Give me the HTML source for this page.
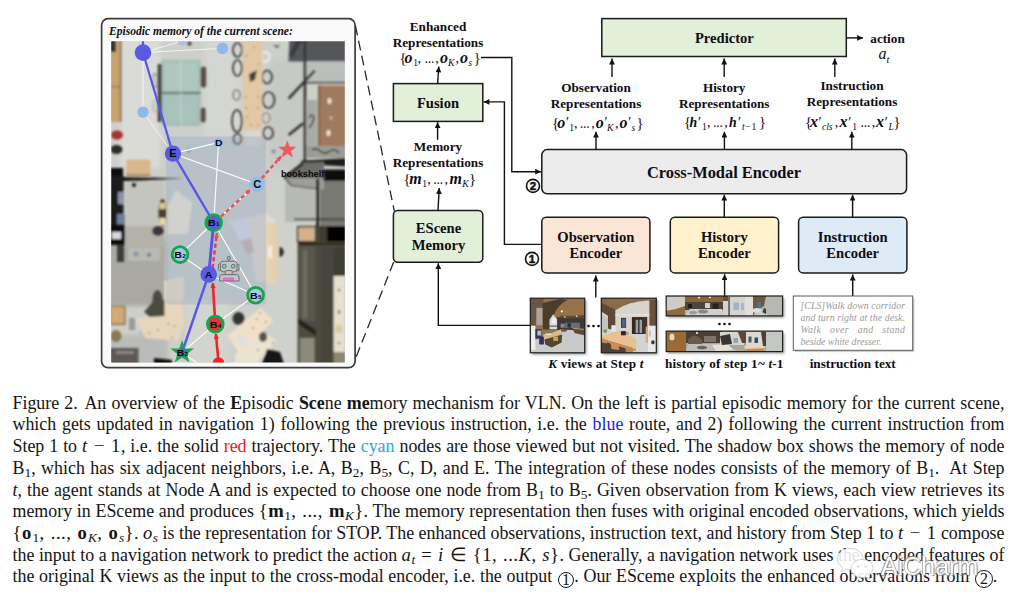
<!DOCTYPE html>
<html>
<head>
<meta charset="utf-8">
<title>Figure 2</title>
<style>
html,body{margin:0;padding:0;background:#fff;}
body{width:1013px;height:607px;position:relative;overflow:hidden;font-family:"Liberation Serif",serif;color:#111;}
#fig{position:absolute;left:0;top:0;width:1013px;height:390px;}
#fig text{font-family:"Liberation Serif",serif;}
.b{font-weight:bold;fill:#0d0d14;}
.cap{position:absolute;left:12.5px;width:992px;height:22px;line-height:22px;font-size:17.9px;white-space:nowrap;text-align:justify;text-align-last:justify;color:#141414;white-space:normal;overflow:visible;}
.cap.last{text-align-last:left;width:auto;white-space:nowrap;word-spacing:.22px;}
.cap i{font-style:italic;}
.cap sub{font-size:13.4px;vertical-align:-3.4px;line-height:0;}
.m{font-size:18.6px;letter-spacing:.5px;word-spacing:.6px;}
.m sub{letter-spacing:.3px;}
.ob b{letter-spacing:1.3px;}
.circ.c2{width:17.8px;height:17.8px;line-height:16px;vertical-align:-1.7px;}
.red{color:#f01414;} .blue{color:#1c1ce0;} .cyan{color:#1fa8ea;}
.circ{display:inline-block;box-sizing:border-box;width:16.4px;height:16.4px;border:1.1px solid #141414;border-radius:50%;font-size:16px;line-height:14.6px;text-align:center;vertical-align:-2.8px;text-align-last:center;margin-left:1px;word-spacing:0;}
#wm{position:absolute;left:881px;top:552px;line-height:28px;font-family:"Liberation Sans",sans-serif;font-size:25px;color:#fff;text-shadow:0 0 1px #666,1px 1px 1px #888,-1px -1px 1px #aaa;opacity:.9;}
</style>
</head>
<body>
<svg id="fig" width="1013" height="390" viewBox="0 0 1013 390">
<defs>
<marker id="ah" viewBox="0 0 10 10" refX="10" refY="5" markerWidth="8.4" markerHeight="5.8" markerUnits="userSpaceOnUse" orient="auto"><path d="M0,0 L10,5 L0,10 z" fill="#111"/></marker>
</defs>
<defs>
<clipPath id="imgclip"><rect x="111.2" y="41.2" width="233.6" height="321.4"/></clipPath>
<filter id="bl" x="-5%" y="-5%" width="110%" height="110%"><feGaussianBlur stdDeviation="0.9"/></filter>
<filter id="bl2" x="-5%" y="-5%" width="110%" height="110%"><feGaussianBlur stdDeviation="2.2"/></filter>
<marker id="rh" viewBox="0 0 10 10" refX="9" refY="5" markerWidth="6" markerHeight="5.4" markerUnits="userSpaceOnUse" orient="auto"><path d="M0,0 L10,5 L0,10 z" fill="#ee2424"/></marker>
<marker id="ph" viewBox="0 0 10 10" refX="9" refY="5" markerWidth="5.6" markerHeight="5" markerUnits="userSpaceOnUse" orient="auto"><path d="M0,0 L10,5 L0,10 z" fill="#ea5058"/></marker>
</defs>
<g id="scene">
<!-- panel -->
<rect x="101.6" y="18.7" width="253.5" height="349" rx="6.5" fill="#fafafa" stroke="#3c3c3c" stroke-width="1.7"/>
<text x="109" y="34.7" font-size="11.55" font-weight="bold" font-style="italic" fill="#0d0d14">Episodic memory of the current scene:</text>
<g clip-path="url(#imgclip)">
<rect x="111" y="41" width="234" height="322" fill="#cdcfca"/>
<!-- soft tonal zones -->
<g filter="url(#bl2)">
<rect x="120" y="38" width="40" height="130" fill="#dadbd7"/>
<rect x="205" y="38" width="36" height="100" fill="#d4d6d2"/>
<rect x="270" y="60" width="34" height="110" fill="#c6c9c6"/>
<rect x="108" y="240" width="58" height="66" fill="#a9a9a2"/>
<rect x="125" y="180" width="40" height="50" fill="#c4c5bf"/>
<rect x="270" y="180" width="30" height="180" fill="#cfd1cc"/>
<rect x="186" y="300" width="44" height="66" fill="#d2d4d0"/>
<rect x="108" y="335" width="60" height="30" fill="#b9bcb8"/>
</g>
<g filter="url(#bl)">
<!-- top-left tan strip -->
<rect x="110" y="40" width="11" height="82" fill="#c9a36e"/>
<rect x="110" y="40" width="6" height="12" fill="#3b3027"/>
<rect x="119.8" y="40" width="1.6" height="82" fill="#7c694e"/>
<rect x="110" y="86" width="10" height="1.2" fill="#8a7455"/>
<!-- shoes -->
<ellipse cx="117" cy="135" rx="6" ry="4.5" fill="#a3362c"/>
<ellipse cx="116.5" cy="149.5" rx="6" ry="4.5" fill="#2e2b2a"/>
<!-- green glass table -->
<rect x="157.6" y="64" width="5" height="58" fill="#4b4b44"/>
<rect x="161.8" y="59.9" width="38.8" height="66" fill="#a3bdb6"/>
<rect x="164" y="62" width="34" height="28.5" fill="#aec7c0"/>
<rect x="164" y="96" width="34" height="27" fill="#a9c2bb"/>
<rect x="161.8" y="92" width="38.8" height="1.7" fill="#5d6d66"/>
<rect x="180.6" y="60" width="0.9" height="66" fill="#c6dcd5"/>
<rect x="153" y="74" width="4.2" height="13" rx="2" fill="none" stroke="#8d8d89" stroke-width="1.3"/>
<rect x="200.6" y="66.5" width="5.6" height="21" rx="2.8" fill="#5d4d43"/>
<rect x="200.6" y="107.5" width="5" height="15" rx="2.5" fill="#5d4d43"/>
<rect x="153" y="100" width="4.2" height="12" rx="2" fill="none" stroke="#a5a5a0" stroke-width="1"/>
<circle cx="189.5" cy="43.5" r="2.2" fill="#55504a"/>
<!-- long tan table with chairs -->
<g fill="none" stroke="#35332f" stroke-width="1.7">
<ellipse cx="237.5" cy="50" rx="4.5" ry="7"/><ellipse cx="237.5" cy="68" rx="4.5" ry="8"/>
<ellipse cx="237" cy="121" rx="5" ry="11"/><ellipse cx="236.5" cy="95" rx="3.5" ry="5" stroke="#8a7a62" stroke-width="1.5"/>
<ellipse cx="267" cy="77" rx="5" ry="6.5"/><ellipse cx="268.5" cy="100" rx="6" ry="8"/>
<ellipse cx="268" cy="133" rx="5" ry="6"/><ellipse cx="266" cy="118" rx="4" ry="5" stroke="#9b8a70" stroke-width="1.5"/>
<ellipse cx="265.5" cy="57" rx="3.8" ry="5" stroke="#ececec" stroke-width="2.4"/>
<ellipse cx="237.5" cy="139" rx="4" ry="5"/>
</g>
<polygon points="242.3,40 262.6,40 261.7,145.6 243.8,145.6" fill="#e3c8a5"/>
<polygon points="249,74 257,70 255,80 250,82" fill="#4a4036"/>
<g fill="#a98a66"><circle cx="254" cy="47" r=".9"/><circle cx="246" cy="56" r=".9"/><circle cx="259" cy="64" r=".9"/><circle cx="245.5" cy="97" r=".9"/><circle cx="258" cy="97" r=".9"/><circle cx="246.5" cy="108" r=".9"/><circle cx="258" cy="108" r=".9"/><circle cx="247" cy="117" r=".9"/><circle cx="251" cy="125" r=".9"/><circle cx="258.5" cy="125" r=".9"/></g>
<!-- top right dark area -->
<polygon points="289.4,40 346,40 346,61.6 288.4,61.6" fill="#55565a"/>
<polygon points="296,40 303,40 292,58 289,55" fill="#3c3c3e"/>
<rect x="306" y="61.6" width="40" height="20.6" fill="#bbbfbb"/>
<rect x="303.6" y="40" width="2.7" height="126" fill="#383838"/>
<path d="M314.8,70.6 L288.6,98.6 M303.2,123.3 L288.6,135" stroke="#303030" stroke-width="2.6" fill="none"/>
<rect x="305" y="81.8" width="41" height="1.6" fill="#2f2f2f"/>
<path d="M274,45 l3,2 l2,-2" stroke="#55504a" stroke-width="1.4" fill="none"/>
<!-- brown panel -->
<rect x="318" y="85.4" width="28" height="69" fill="#a07a5c"/>
<rect x="318" y="85.4" width="2" height="69" fill="#7d6048"/>
<ellipse cx="329.5" cy="101" rx="2" ry="3" fill="#efe6da"/><ellipse cx="328.5" cy="133" rx="2" ry="3" fill="#efe6da"/><ellipse cx="331" cy="118" rx="1.5" ry="2" fill="#c9b7a4"/>
<rect x="306.5" y="100" width="11" height="46" fill="#a9aba6"/>
<path d="M309,118 q3,-6 5,0 q-2,7 -5,10" stroke="#3c3c3c" stroke-width="1.5" fill="none"/>
<!-- mid right dark bands -->
<rect x="306.5" y="146" width="40" height="12" fill="#9a9c98"/>
<path d="M312,150 q4,-3 8,1 q5,4 10,0 q5,-3 9,2" stroke="#2e2e2e" stroke-width="1.4" fill="none"/>
<rect x="320" y="179" width="26" height="47" fill="#787973"/>
<rect x="285" y="181" width="31" height="41" fill="#b7b9b5"/>
<polygon points="302,160.500 346,158 346,166.500 300,164" fill="#1e1e1e"/>
<polygon points="283.800,176.500 302,162.500 324,162 324,177" fill="#6b6d69"/>
<polygon points="283.800,176.500 302,162.500 304,164.500 287,177.500" fill="#2b2b2b"/>
<polygon points="284,176.600 291,185.500 324,189.500 324,177" fill="#9c9e9a"/>
<path d="M284,177 L291,185.500 L318,189" stroke="#3a3a38" stroke-width="1.200" fill="none"/>
<rect x="323.500" y="169.500" width="23" height="11.500" fill="#0c0c0c"/>
<rect x="283" y="176.200" width="42" height="1.600" fill="#4a4a46"/>
<rect x="316" y="179" width="3.200" height="185" fill="#1f1e1c"/>
<rect x="294" y="218.600" width="52" height="1.500" fill="#2c2c2a"/>
<circle cx="273.5" cy="151.5" r="2" fill="#8c8c88"/>
<!-- tan box + wedge, left -->
<rect x="126.4" y="159.6" width="24" height="16.6" fill="#d9b68b"/>
<rect x="126.4" y="174" width="24" height="2.2" fill="#a88a62"/>
<polygon points="110,176.800 140,177.200 184,178.400 140,180.600 110,181.200" fill="#151515"/>
<rect x="110" y="168" width="13" height="12" fill="#101010"/>
<rect x="110" y="176" width="13.5" height="58" fill="#1a1a1a"/>
<rect x="117" y="222" width="7" height="40" fill="#3c3c3a"/>
<rect x="118" y="192" width="6" height="12" fill="#8f93a6"/>
<rect x="117" y="214" width="8" height="10" fill="#6f7f95"/>
<circle cx="134" cy="185" r="2" fill="#1a1a1a"/>
<!-- desk near E/B1 left -->
<polygon points="175.8,190 192.3,202.5 188,234 167.6,234 167.6,207.4" fill="#f3e8d2"/>
<ellipse cx="162.5" cy="213" rx="4" ry="14" fill="#4b3f2f"/>
<rect x="159.5" y="203" width="6" height="6" fill="#e2c88c"/><rect x="159.5" y="218" width="6" height="7" fill="#e8d9a8"/>
<circle cx="188.5" cy="150.5" r="2.2" fill="#9a9b98"/>
<!-- left middle grey zone -->
<rect x="110" y="225" width="15" height="20" fill="#111"/>
<rect x="112" y="232" width="9" height="7" fill="#d8d8d8"/>
<rect x="125" y="226" width="40" height="20" fill="#b4b2a8"/>
<ellipse cx="158" cy="231" rx="6" ry="5" fill="#3a3540"/>
<rect x="128" y="247" width="32" height="14" fill="#b9bab4"/>
<circle cx="136" cy="254" r="2.5" fill="#8c92a8"/><circle cx="149" cy="255" r="2" fill="#77776f"/>
<!-- L desk (A/B2 left-bottom) -->
<polygon points="164.5,281 184,276 184,306 177.5,325 150,325 165,300" fill="#eedfc2"/>
<ellipse cx="157.5" cy="300" rx="5" ry="10" fill="#4a4a3f"/>
<rect x="110" y="307.3" width="15.6" height="18" fill="#cba877"/>
<!-- bottom-left L desk -->
<polygon points="165.5,300 184,300 184,324.7 177.8,340.7 145.7,338.3 134.6,318.5 165.5,316" fill="#e6d6bb"/>
<polygon points="154.4,300 164.5,300 164.5,316 150,317 144,312" fill="#4b4b41"/>
<rect x="110" y="306.2" width="14.8" height="18" fill="#d3a977" stroke="#6e5a40" stroke-width="1"/>
<ellipse cx="116" cy="336" rx="5.5" ry="6" fill="#897954"/>
<rect x="129" y="318" width="6" height="12" fill="#9a9a98"/>
<rect x="110" y="348" width="28.5" height="16" fill="#5c5956"/>
<rect x="116" y="351" width="18" height="3" fill="#8d8486"/>
<polygon points="154,358 172,360 172,364 154,364" fill="#111"/>
<g fill="#9b8a70"><circle cx="168.5" cy="324" r=".9"/><circle cx="174.5" cy="326" r=".9"/><circle cx="158" cy="330" r=".9"/><circle cx="149" cy="333" r=".9"/><circle cx="172" cy="338" r=".9"/><circle cx="140.5" cy="333" r=".9"/></g>
<!-- desk right of B1 / robot -->
<polygon points="228.6,221.8 265,213.4 275,219 275,283.5 256,281 251,251.2" fill="#e4dacd"/>
<polygon points="266.5,222 277.6,226 277.6,281 266.5,283" fill="#e4d0ad"/>
<polygon points="231,223 247,219.5 252,238 240,241" fill="#dcdae4"/>
<polygon points="240,241 251,238 254,252 248,254" fill="#c9b2ad"/>
<path d="M279.3,247 a4.5,5 0 0 1 0,10z" fill="#2a2a26"/>
<rect x="268" y="246" width="4" height="12" fill="#f3eee2"/>
<!-- small table top centre under long table -->
<polygon points="244,130 262,130 260,146 246,146" fill="#d9d7d0"/>
<!-- bottom tilted desks -->
<polygon points="260.8,307.4 273.1,321 239.8,354.3 227.5,335.8" fill="#f0e1c6"/>
<polygon points="262,330.8 276.8,340.7 255.8,364 234.9,364 234.9,354.3" fill="#ebe2d0"/>
<polygon points="240,334 249,341 243,347 235,340" fill="#dcdfe6"/>
<ellipse cx="238.5" cy="318.5" rx="6" ry="6.5" fill="#36352f"/>
<polygon points="267,349 280,352 284,364 262,364" fill="#151515"/>
<ellipse cx="263" cy="337" rx="4" ry="5" fill="#55544d"/>
<g fill="#8f7d63"><circle cx="260" cy="313" r=".9"/><circle cx="257" cy="319" r=".9"/><circle cx="253" cy="328" r=".9"/><circle cx="266" cy="322" r=".9"/><circle cx="273" cy="343" r=".9"/><circle cx="258" cy="350" r=".9"/></g>
<!-- right dark shelf lower -->
<rect x="297.6" y="226" width="48" height="138" fill="#4d4b3f"/>
<rect x="297.6" y="226.6" width="18" height="15" fill="#d5b08a" stroke="#2a2823" stroke-width="1.4"/>
<rect x="327" y="226" width="19" height="15.6" fill="#060606"/>
<rect x="319" y="226" width="8" height="16" fill="#3c3a33"/>
<rect x="299" y="243" width="47" height="2" fill="#1f1e1a"/>
<rect x="300" y="247" width="15" height="74" fill="#5a584b"/>
<rect x="303" y="250" width="4" height="68" fill="#6e6c5e"/>
<rect x="321" y="247" width="12" height="116" fill="#47453a"/>
<rect x="333.6" y="276" width="12" height="76" fill="#e7e0cf"/>
<rect x="333.6" y="247" width="12" height="29" fill="#3e3c33"/>
<polygon points="298,318 316,330 316,336 298,324" fill="#25241f"/>
<rect x="300" y="338" width="14.5" height="26" fill="#8b8b79"/>
<ellipse cx="339" cy="312" rx="1.3" ry="2.2" fill="#7f7a6a"/><ellipse cx="339" cy="329" rx="3.4" ry="4.2" fill="#d9c9a4"/><ellipse cx="339" cy="343" rx="1.6" ry="1.1" fill="#7f7a6a"/><ellipse cx="339" cy="290" rx="1.2" ry="2" fill="#8d8878"/>
<rect x="333.6" y="352" width="12" height="12" fill="#8d866f"/>
</g>
<!-- shadow box -->
<rect x="166" y="136.4" width="100" height="168" rx="4" fill="#8fa3c2" fill-opacity=".33"/>
<g id="graph">
<!-- white edges -->
<g stroke="#fff" stroke-width="1.1" fill="none">
<path d="M143,52.5 L182.4,41 M143,52.5 L222.4,48.4 M143,52.5 L143,112.1 L173,153.6" stroke-width=".9" stroke-opacity=".85"/>
<path d="M173,153.6 L218.6,142.4 L213.7,222.5 M173,153.6 L257.1,184.3 L213.7,222.5"/>
<path d="M213.7,222.5 L180,254.6 L208.7,274.4 L255.6,295 L213.7,222.5"/>
<path d="M255.6,295 L215.3,324.1 L182,352.4 M215.3,324.1 L182,352.4 M182,352.4 L200,365 M215.3,324.1 L232,312"/>
</g>
<!-- blue path -->
<g fill="none" stroke="#5656ea" stroke-linejoin="round" stroke-linecap="round">
<path d="M143,40 L143,52.5 L173,153.6" stroke-width="2.2"/>
<path d="M173,153.6 L213.700,222.500" stroke-width="2.400"/>
<path d="M213.700,222.500 L208.700,274.400" stroke-width="2.900"/>
<path d="M208.700,274.400 L182,352.400" stroke-width="2.500"/>
</g>
<!-- red solid path -->
<path d="M218.5,362 L215.9,334" fill="none" stroke="#ee2424" stroke-width="2.6" marker-end="url(#rh)"/>
<path d="M215.3,324 L212.8,283.2" fill="none" stroke="#ee2424" stroke-width="2.6" marker-end="url(#rh)"/>
<!-- red dashed -->
<g fill="none" stroke="#ea5058" stroke-width="2.4" stroke-dasharray="4.2,2.6">
<path d="M212.6,268 L216.9,233" stroke="#ee3444" marker-end="url(#ph)"/>
<path d="M221,216.5 L250.6,189.5" marker-end="url(#ph)"/>
<path d="M261.6,178.5 L281,156.5" marker-end="url(#ph)"/>
</g>
<!-- plain nodes -->
<circle cx="143" cy="52.6" r="8.3" fill="#5a5ae2"/>
<circle cx="143" cy="112.1" r="5.7" fill="#93b8e8"/>
<circle cx="222.4" cy="48.4" r="5.8" fill="#93b8e8"/>
<circle cx="182.6" cy="40.6" r="5" fill="#a5c4ea"/>
<circle cx="173" cy="153.6" r="8.2" fill="#5a5ae2"/>
<circle cx="218.6" cy="142.4" r="4.6" fill="#93bcec"/>
<circle cx="257.1" cy="184.3" r="7.7" fill="#92bfea"/>
<circle cx="208.7" cy="274.4" r="8.3" fill="#5a5ae2"/>
<circle cx="218.5" cy="363" r="5.8" fill="#ee2424"/>
<!-- ringed nodes -->
<circle cx="213.7" cy="222.6" r="7.9" fill="#5a5ae2" stroke="#14a84a" stroke-width="2.8"/>
<circle cx="180" cy="254.6" r="7.9" fill="#a6c8ea" stroke="#14a84a" stroke-width="2.8"/>
<circle cx="255.6" cy="295.2" r="7.9" fill="#a6c8ea" stroke="#14a84a" stroke-width="2.8"/>
<circle cx="215.3" cy="324.1" r="7.9" fill="#e83232" stroke="#14a84a" stroke-width="2.8"/>
<!-- stars -->
<polygon points="287.3,141.3 289.3,147.0 295.4,147.2 290.6,150.9 292.3,156.7 287.3,153.3 282.3,156.7 284.0,150.9 279.2,147.2 285.3,147.0" fill="#ee5a60" stroke="#ee5a60" stroke-width=".8" stroke-linejoin="round"/>
<polygon points="182.1,343 184.3,349.4 191.1,349.5 185.7,353.6 187.7,360.1 182.1,356.2 176.5,360.1 178.5,353.6 173.1,349.5 179.9,349.4" fill="#4b62c8" stroke="#1da64a" stroke-width="2" stroke-linejoin="miter"/>
<!-- labels -->
<g font-weight="bold" fill="#0a0a0a" text-anchor="middle">
<text transform="translate(172.9,157.3) scale(1.08,1)" font-size="10.3" style="font-family:'Liberation Sans',sans-serif">E</text>
<text transform="translate(218.7,145.8) scale(1.12,1)" font-size="9.3" style="font-family:'Liberation Sans',sans-serif">D</text>
<text transform="translate(257.3,188) scale(1.08,1)" font-size="10.3" style="font-family:'Liberation Sans',sans-serif">C</text>
<text transform="translate(208.7,278) scale(1.08,1)" font-size="9.9" style="font-family:'Liberation Sans',sans-serif">A</text>
<text transform="translate(213.8,226.1) scale(1.08,1)" font-size="9.9" style="font-family:'Liberation Sans',sans-serif">B<tspan font-size="5.8" dx=".3">1</tspan></text>
<text transform="translate(180,258.3) scale(1.08,1)" font-size="9.9" style="font-family:'Liberation Sans',sans-serif">B<tspan font-size="5.8" dx=".3">2</tspan></text>
<text transform="translate(255.8,298.9) scale(1.08,1)" font-size="9.9" style="font-family:'Liberation Sans',sans-serif">B<tspan font-size="5.8" dx=".3">5</tspan></text>
<text transform="translate(215.5,327.7) scale(1.08,1)" font-size="9.9" style="font-family:'Liberation Sans',sans-serif">B<tspan font-size="5.8" dx=".3">4</tspan></text>
<text transform="translate(182.3,356.4) scale(1.08,1)" font-size="9.6" style="font-family:'Liberation Sans',sans-serif">B<tspan font-size="5.8" dx=".3">3</tspan></text>
<text x="302.6" y="176.6" font-size="8.6" textLength="43.4" lengthAdjust="spacingAndGlyphs" style="font-family:'Liberation Sans',sans-serif">bookshelf</text>
</g>
<!-- robot -->
<g stroke="#6e6e6e" stroke-width="1" fill="#c4c4c4">
<line x1="228.8" y1="259.5" x2="228.8" y2="261.5"/>
<circle cx="228.8" cy="258" r="1.6" fill="#59dfe8"/>
<rect x="218.4" y="264" width="2.4" height="6.6" rx="1"/><rect x="236.6" y="264" width="2.4" height="6.6" rx="1"/>
<rect x="220.4" y="261.2" width="16.6" height="10.6" rx="2.6"/>
<circle cx="224.2" cy="266.2" r="1.9" fill="#59dfe8"/><circle cx="233.2" cy="266.2" r="1.9" fill="#59dfe8"/>
<rect x="225.2" y="270.6" width="7" height="4.4" rx="1"/>
<path d="M219.6,281 L219.6,277 Q219.6,274.6 222,274.6 L236.6,274.6 Q239,274.6 239,277 L239,281 z"/>
<rect x="223.6" y="278" width="10" height="2.3" fill="#ea6fe0" stroke="#b050a8" stroke-width=".5"/>
</g>
</g>

</g>
</g>

<g id="diagram" stroke-linecap="butt">
<!-- panel-to-EScene dashed connectors -->
<path d="M355.4,25.7 L394.3,211" fill="none" stroke="#2a2a2a" stroke-width="1.3" stroke-dasharray="10,5.3"/>
<path d="M393.7,262 L355.4,358.8" fill="none" stroke="#2a2a2a" stroke-width="1.3" stroke-dasharray="10,5.3"/>
<!-- boxes -->
<rect x="393.4" y="83.6" width="89.4" height="37.8" fill="#e2efd9" stroke="#1a1a1a" stroke-width="1.5"/>
<rect x="393.4" y="210.5" width="89.4" height="51.7" rx="4.5" fill="#e2efd9" stroke="#1a1a1a" stroke-width="1.5"/>
<rect x="601.8" y="18.6" width="244.5" height="37.9" fill="#e2efd9" stroke="#1a1a1a" stroke-width="1.5"/>
<rect x="541.8" y="149.6" width="364.8" height="44.2" rx="5.5" fill="#ececec" stroke="#1a1a1a" stroke-width="1.5"/>
<rect x="541.8" y="217.2" width="108.1" height="55.7" rx="4.5" fill="#fbe5d6" stroke="#1a1a1a" stroke-width="1.5"/>
<rect x="670.3" y="217.2" width="108.3" height="55.7" rx="4.5" fill="#fff2cc" stroke="#1a1a1a" stroke-width="1.5"/>
<rect x="798.6" y="217.2" width="108.3" height="55.7" rx="4.5" fill="#deebf7" stroke="#1a1a1a" stroke-width="1.5"/>
<!-- arrows -->
<g fill="none" stroke="#111" stroke-width="1.4" marker-end="url(#ah)">
<path d="M437.6,83.6 L438.8,66.5"/>
<path d="M437.6,139.8 L437.6,122.2"/>
<path d="M438,210.5 L439.2,188"/>
<path d="M530,325.4 L438.3,325.4 L438.3,263.2"/>
<path d="M541.8,244.4 L504.4,244.4 L504.4,101.9 L483.6,101.9"/>
<path d="M481,57.5 L511.8,57.5 L511.8,171.7 L541,171.7"/>
<path d="M596,149.6 L596,131.8"/>
<path d="M724.4,149.6 L724.4,131.8"/>
<path d="M851.8,149.6 L851.8,131.8"/>
<path d="M612,77 L612,58.6"/>
<path d="M724.2,77 L724.2,58.6"/>
<path d="M834.8,77 L834.8,58.6"/>
<path d="M846.3,37.9 L863,37.9"/>
<path d="M724.3,217.2 L724.3,194.8"/>
<path d="M852.6,217.2 L852.6,194.8"/>
<path d="M595.8,297.5 L595.8,275.6"/>
<path d="M724.6,296.5 L724.6,274.2"/>
<path d="M852.7,296 L852.7,274.6"/>
</g>
<!-- circled numbers -->
<g font-family="Liberation Sans" font-weight="bold" font-size="11" text-anchor="middle" fill="#111">
<circle cx="533" cy="185.9" r="6.5" fill="#fff" stroke="#111" stroke-width="1.6"/><text x="533" y="190" style="font-family:'Liberation Sans',sans-serif;font-weight:bold;font-size:11.5px;stroke:#111;stroke-width:.55px">2</text>
<circle cx="532" cy="258.9" r="6.5" fill="#fff" stroke="#111" stroke-width="1.6"/><text x="532" y="263" style="font-family:'Liberation Sans',sans-serif;font-weight:bold;font-size:11.5px;stroke:#111;stroke-width:.55px">1</text>
</g>
<!-- box labels -->
<g class="b" text-anchor="middle" font-size="14.6">
<text x="438" y="107.5">Fusion</text>
<text x="438.5" y="233">EScene</text>
<text x="438.5" y="250.4">Memory</text>
<text x="724.4" y="42.7">Predictor</text>
<text x="724" y="178" font-size="16.4">Cross-Modal Encoder</text>
<text x="595.8" y="242">Observation</text>
<text x="595.8" y="258.4">Encoder</text>
<text x="724.4" y="242">History</text>
<text x="724.4" y="258.4">Encoder</text>
<text x="852.7" y="242">Instruction</text>
<text x="852.7" y="258.4">Encoder</text>
</g>
<!-- small labels -->
<g class="b" text-anchor="middle" font-size="13.2">
<text x="438" y="30.8">Enhanced</text>
<text x="438" y="47">Representations</text>
<text x="438" y="150.8">Memory</text>
<text x="438" y="167">Representations</text>
<text x="596" y="92.2">Observation</text>
<text x="596" y="108">Representations</text>
<text x="724.2" y="91.5">History</text>
<text x="724.2" y="107.5">Representations</text>
<text x="852" y="89.7">Instruction</text>
<text x="852" y="106">Representations</text>
<text x="887.5" y="42.9">action</text>
<text x="724.2" y="367.5" textLength="118.5" lengthAdjust="spacing"><tspan>history of step 1~ </tspan><tspan font-style="italic">t</tspan><tspan>-1</tspan></text>
<text x="852.7" y="367.6">instruction text</text>
<text x="595.8" y="367.5" textLength="95" lengthAdjust="spacing"><tspan font-style="italic">K</tspan><tspan> views at Step </tspan><tspan font-style="italic">t</tspan></text>
</g>
<!-- formulas -->
<g fill="#0d0d14">
<text y="63.4"><tspan x="399.6" y="63.4" font-size="14.6">{</tspan><tspan x="404.6" y="63.4" font-size="16" font-weight="bold" font-style="italic">o</tspan><tspan x="413.2" y="66.4" font-size="9.6">1</tspan><tspan x="417.4" y="63.4" font-size="14">,</tspan><tspan x="424.8" y="63.4" font-size="9.4" font-weight="bold">…</tspan><tspan x="435.2" y="63.4" font-size="14">,</tspan><tspan x="440.1" y="63.4" font-size="16" font-weight="bold" font-style="italic">o</tspan><tspan x="448.0" y="66.4" font-size="9.6" font-style="italic">K</tspan><tspan x="455.6" y="63.4" font-size="14">,</tspan><tspan x="460.1" y="63.4" font-size="16" font-weight="bold" font-style="italic">o</tspan><tspan x="468.3" y="66.4" font-size="9.6" font-style="italic">s</tspan><tspan x="473.8" y="63.4" font-size="14.6">}</tspan></text>
<text y="184.2"><tspan x="403.4" y="184.2" font-size="14.6">{</tspan><tspan x="409.2" y="184.2" font-size="16" font-weight="bold" font-style="italic">m</tspan><tspan x="422.3" y="187.2" font-size="9.6">1</tspan><tspan x="427.2" y="184.2" font-size="14">,</tspan><tspan x="433.4" y="184.2" font-size="9.4" font-weight="bold">…</tspan><tspan x="444.5" y="184.2" font-size="14">,</tspan><tspan x="449.6" y="184.2" font-size="16" font-weight="bold" font-style="italic">m</tspan><tspan x="462.3" y="187.2" font-size="9.6" font-style="italic">K</tspan><tspan x="468.9" y="184.2" font-size="14.6">}</tspan></text>
<text y="127.7"><tspan x="552.0" y="127.7" font-size="14.6">{</tspan><tspan x="557.2" y="127.7" font-size="16" font-weight="bold" font-style="italic">o</tspan><tspan x="566.0" y="127.2" font-size="14">′</tspan><tspan x="569.2" y="130.7" font-size="9.6">1</tspan><tspan x="573.9" y="127.7" font-size="14">,</tspan><tspan x="580.1" y="127.7" font-size="9.4" font-weight="bold">…</tspan><tspan x="591.2" y="127.7" font-size="14">,</tspan><tspan x="595.7" y="127.7" font-size="16" font-weight="bold" font-style="italic">o</tspan><tspan x="604.5" y="127.2" font-size="14">′</tspan><tspan x="607.0" y="130.7" font-size="9.6" font-style="italic">K</tspan><tspan x="614.9" y="127.7" font-size="14">,</tspan><tspan x="619.4" y="127.7" font-size="16" font-weight="bold" font-style="italic">o</tspan><tspan x="628.2" y="127.2" font-size="14">′</tspan><tspan x="631.4" y="130.7" font-size="9.6" font-style="italic">s</tspan><tspan x="636.4" y="127.7" font-size="14.6">}</tspan></text>
<text y="127.3"><tspan x="684.0" y="127.3" font-size="14.6">{</tspan><tspan x="689.6" y="127.3" font-size="13.8" font-weight="bold" font-style="italic" letter-spacing="0">h</tspan><tspan x="698.0" y="126.8" font-size="14">′</tspan><tspan x="701.9" y="130.3" font-size="9.6">1</tspan><tspan x="706.9" y="127.3" font-size="14">,</tspan><tspan x="713.3" y="127.3" font-size="9.4" font-weight="bold">…</tspan><tspan x="724.2" y="127.3" font-size="14">,</tspan><tspan x="729.1" y="127.3" font-size="13.8" font-weight="bold" font-style="italic" letter-spacing="0">h</tspan><tspan x="738.0" y="126.8" font-size="14">′</tspan><tspan x="742.1" y="130.3" font-size="9.6" font-style="italic">t</tspan><tspan x="745.2" y="130.3" font-size="9.6" letter-spacing="1">−1</tspan><tspan x="759.0" y="127.3" font-size="14.6">}</tspan></text>
<text y="127.3"><tspan x="805.0" y="127.3" font-size="14.6">{</tspan><tspan x="810.0" y="127.3" font-size="16" font-weight="bold" font-style="italic">x</tspan><tspan x="818.6" y="126.8" font-size="14">′</tspan><tspan x="821.9" y="130.3" font-size="9.6" font-style="italic">cls</tspan><tspan x="834.8" y="127.3" font-size="14">,</tspan><tspan x="839.6" y="127.3" font-size="16" font-weight="bold" font-style="italic">x</tspan><tspan x="848.2" y="126.8" font-size="14">′</tspan><tspan x="852.3" y="130.3" font-size="9.6">1</tspan><tspan x="860.7" y="127.3" font-size="9.4" font-weight="bold">…</tspan><tspan x="871.8" y="127.3" font-size="14">,</tspan><tspan x="876.1" y="127.3" font-size="16" font-weight="bold" font-style="italic">x</tspan><tspan x="884.7" y="126.8" font-size="14">′</tspan><tspan x="888.4" y="130.3" font-size="9.6" font-style="italic">L</tspan><tspan x="893.4" y="127.3" font-size="14.6">}</tspan></text>
<text x="878.6" y="59.3" font-size="16" font-style="italic">a<tspan font-size="10.500" dy="3.2">t</tspan></text>
</g>
<!-- dots -->
<g fill="#111">
<circle cx="588.5" cy="326" r="1.35"/><circle cx="593.5" cy="326" r="1.35"/><circle cx="598.5" cy="326" r="1.35"/>
<circle cx="719.5" cy="324" r="1.35"/><circle cx="724.5" cy="324" r="1.35"/><circle cx="729.5" cy="324" r="1.35"/>
</g>
<!-- instruction text box -->
<rect x="795" y="297.8" width="119.4" height="54.3" fill="#bdbdbd" opacity=".7"/>
<rect x="793.3" y="296" width="119.4" height="54.3" fill="#fff" stroke="#5a5a5a" stroke-width="1"/>
<g font-style="italic" font-size="9.8" fill="#9a9a9a">
<text x="800.4" y="308.9" textLength="104.6" lengthAdjust="spacing">[CLS]Walk down corridor</text>
<text x="800.4" y="320.8" textLength="104.6" lengthAdjust="spacing">and turn right at the desk.</text>
<text x="800.4" y="332.7" textLength="104.6" lengthAdjust="spacing" word-spacing="6">Walk over and stand</text>
<text x="800.4" y="344.6">beside white dresser.</text>
</g>
<defs>
<clipPath id="cv1"><rect x="530.3" y="298.2" width="54.4" height="54.6"/></clipPath>
<clipPath id="cv2"><rect x="601.3" y="298.2" width="55" height="54.6"/></clipPath>
<clipPath id="cp1"><rect x="666.2" y="296" width="116.4" height="19.9"/></clipPath>
<clipPath id="cp2"><rect x="666.2" y="331.1" width="116.4" height="20.5"/></clipPath>
<filter id="pb" x="-10%" y="-10%" width="120%" height="120%"><feGaussianBlur stdDeviation="0.7"/></filter>
<filter id="sh" x="-10%" y="-10%" width="130%" height="130%"><feGaussianBlur stdDeviation="1.1"/></filter>
</defs>
<!-- shadows -->
<g fill="#777" opacity=".65" filter="url(#sh)">
<rect x="532" y="300.2" width="54.6" height="54.6"/><rect x="603" y="300.2" width="55.2" height="54.6"/>
<rect x="668" y="298" width="116.4" height="19.9"/><rect x="668" y="333.1" width="116.4" height="20.5"/>
</g>
<!-- view 1 -->
<g clip-path="url(#cv1)"><g filter="url(#pb)">
<rect x="529.0" y="297.0" width="57.3" height="57.3" fill="#96724a" />
<polygon points="529.0,297.0 543.8,297.0 542.8,307.9 536.9,307.9 535.9,325.7 529.0,325.7" fill="#6a5642"/>
<rect x="536.4" y="307.9" width="6.1" height="17.3" fill="#aaa59d" />
<path d="M542.8,329.6 L542.8,302.9 L559.6,299.0 L567.5,300.0 Q552.7,306.9 550.2,329.6 z" fill="#4c3c2c"/>
<polygon points="549.5,329.1 549.5,319.7 553.2,314.3 557.2,319.7 557.2,329.1" fill="#d9dbdc"/>
<rect x="552.2" y="318.2" width="3.5" height="5.4" fill="#e9f0f6" />
<rect x="549.3" y="325.7" width="8.4" height="0.8" fill="#2a2622" />
<polygon points="557.2,317.3 585.3,315.3 585.3,330.1 557.2,330.1" fill="#3f3830"/>
<rect x="560.6" y="315.8" width="24.7" height="2.5" fill="#5d4a34" />
<rect x="565.1" y="322.7" width="14.8" height="5.4" fill="#5f6f80" />
<rect x="567.5" y="323.2" width="3.5" height="4.4" fill="#2a3040" />
<rect x="560.6" y="323.7" width="4.0" height="4.0" fill="#8f8a80" />
<polygon points="529.0,354.3 586.3,354.3 586.3,334.1 571.5,330.1 560.6,329.6 545.8,335.5 529.0,342.5" fill="#cacac8"/>
<polygon points="560.6,329.6 567.5,329.1 566.5,331.6 561.6,331.8" fill="#5a5650"/>
<polygon points="572.5,328.1 585.3,329.6 585.3,335.5 574.5,333.1" fill="#5b4a36"/>
<polygon points="573.0,327.8 585.3,329.1 585.3,330.1 573.5,328.9" fill="#b99a6a"/>
<rect x="530.8" y="325.7" width="4.6" height="24.2" fill="#ededeb" />
<rect x="535.4" y="329.1" width="5.9" height="9.4" fill="#2f3a5a" />
<rect x="537.4" y="330.6" width="3.5" height="4.9" fill="#b9c3d0" />
<rect x="539.2" y="336.5" width="4.7" height="8.1" fill="#3c2b5c" rx="1.2"/>
<polygon points="542.8,334.7 561.1,331.4 562.1,334.1 544.8,339.3" fill="#dcb97e"/>
<polygon points="544.3,339.5 562.1,334.4 561.6,342.5 551.7,347.4 545.3,344.4" fill="#54452e"/>
<rect x="553.2" y="336.5" width="4.9" height="4.4" fill="#c5a348" />
<rect x="545.3" y="333.6" width="5.9" height="1.4" fill="#e9e4da" />
<circle cx="561.8" cy="311.3" r="1.1" fill="#fff"/><circle cx="564.8" cy="317.0" r=".8" fill="#f6f2ea"/><circle cx="576.6" cy="316.3" r=".8" fill="#f6f2ea"/>
</g></g>
<rect x="530.3" y="298.2" width="54.4" height="54.6" fill="none" stroke="#1d1d1d" stroke-width="1.2"/>
<!-- view 2 -->
<g clip-path="url(#cv2)"><g filter="url(#pb)">
<rect x="600.0" y="297.0" width="58.3" height="58.3" fill="#d7d4ce" />
<path d="M600.0,297.0 L657.3,297.0 L657.3,301.4 L648.4,300.4 Q627.7,301.4 615.3,310.3 L600.0,310.8 z" fill="#8b6b46"/>
<polygon points="600.0,301.9 615.3,309.8 615.3,325.7 610.9,329.6 607.9,328.6 607.9,315.8 600.0,310.8" fill="#5b4937"/>
<polygon points="600.0,312.8 607.9,318.7 607.9,330.1 600.0,332.1" fill="#c6c3bc"/>
<rect x="649.4" y="300.0" width="7.9" height="26.2" fill="#6a5138" />
<rect x="615.3" y="314.1" width="34.1" height="1.4" fill="#e6e3dd" />
<rect x="621.0" y="317.9" width="5.1" height="9.9" fill="#4a3024" />
<rect x="621.9" y="318.9" width="3.6" height="7.9" fill="#4d6390" />
<rect x="631.9" y="317.1" width="15.3" height="17.0" fill="#3a271d" />
<rect x="635.6" y="319.7" width="2.6" height="13.3" fill="#8ea4b2" />
<rect x="639.5" y="319.7" width="2.6" height="13.3" fill="#8ea4b2" />
<rect x="642.5" y="317.3" width="4.4" height="16.8" fill="#4a3326" />
<rect x="611.4" y="325.2" width="4.2" height="6.7" fill="#e1e7eb" />
<rect x="603.4" y="329.6" width="3.5" height="3.0" fill="#5f9a72" />
<polygon points="628.7,334.1 650.4,334.1 657.3,354.3 631.6,354.3" fill="#d3d3d1"/>
<rect x="645.7" y="326.6" width="2.5" height="16.3" fill="#c9ad8a" />
<rect x="648.1" y="325.7" width="8.4" height="26.2" fill="#e9e9e7" />
<rect x="651.2" y="340.3" width="3.4" height="4.0" fill="#3a3a3a" rx="1.5"/>
<rect x="648.9" y="330.6" width="1.8" height="5.9" fill="#c9b9a6" />
<polygon points="600.0,337.5 632.6,345.4 632.6,355.3 600.0,355.3" fill="#4b4338"/>
<polygon points="601.5,335.5 611.8,332.8 620.3,330.6 622.7,334.7 632.6,337.0 636.4,339.5 635.8,348.9 601.5,338.7" fill="#e9c190"/>
<polygon points="601.5,338.7 635.8,348.9 635.6,351.4 601.5,340.7" fill="#c09262"/>
<rect x="621.0" y="331.1" width="4.9" height="4.2" fill="#2b2727" />
<rect x="625.9" y="331.8" width="2.8" height="3.4" fill="#b89a78" />
<polygon points="601.8,338.0 606.4,339.5 606.9,343.4 602.0,342.5" fill="#d18a52"/>
<polygon points="610.7,342.5 618.8,344.6 619.3,349.9 611.4,348.9" fill="#d18a52"/>
<polygon points="625.5,347.4 632.6,349.4 632.6,354.3 625.7,354.3" fill="#c9804a"/>
</g></g>
<rect x="601.3" y="298.2" width="55" height="54.6" fill="none" stroke="#1d1d1d" stroke-width="1.2"/>
<!-- pano 1 -->
<g clip-path="url(#cp1)"><g filter="url(#pb)">
<rect x="665" y="295" width="119" height="22" fill="#b9b5ae"/>
<polygon points="666,297 685,296 685,306 676,309 666,311" fill="#d2cbc3"/>
<polygon points="666,311 676,309 685,306 685,316 666,316" fill="#8e6c42"/>
<rect x="685" y="296" width="38" height="7" fill="#8b663a"/>
<rect x="685" y="302" width="38" height="8" fill="#4c443c"/>
<polygon points="685,316 690,309 722,309 724,316" fill="#cfcfcd"/>
<rect x="688" y="304" width="4" height="4" fill="#1f1f22"/>
<rect x="712.5" y="303.500" width="6" height="5.500" fill="#2a2221"/>
<rect x="705" y="303" width="5" height="5" fill="#d8d0c2"/>
<ellipse cx="703" cy="311.5" rx="5" ry="2" fill="#8a8a84"/><ellipse cx="693" cy="312.5" rx="4" ry="1.800" fill="#a09a90"/>
<rect x="723" y="296" width="22" height="20" fill="#d6d3ce"/>
<rect x="728.4" y="297" width="1.300" height="19" fill="#3b3632"/>
<rect x="733.5" y="302.5" width="5.500" height="7.500" fill="#9fb4c6"/>
<rect x="741" y="303" width="3" height="7" fill="#a9b9c4"/>
<rect x="723" y="296" width="5" height="5" fill="#6b4d33"/>
<rect x="745" y="296" width="8" height="20" fill="#e1dfdb"/>
<polygon points="753,296 766,296 764,306 755,312 753,316" fill="#6d5842"/>
<rect x="757.5" y="302" width="3.500" height="6" fill="#54708f"/>
<ellipse cx="757" cy="310.5" rx="4.500" ry="2.500" fill="#d9dedb"/>
<polygon points="764,308 774,313 772,316 762,314" fill="#3a3a3c"/>
<rect x="766" y="296" width="17" height="20" fill="#b8b8b3"/>
<polygon points="753,316 760,311 770,316" fill="#cfcdc8"/>
<circle cx="699" cy="297.500" r="1" fill="#fff"/><circle cx="710" cy="297.200" r=".9" fill="#fff"/>
</g></g>
<rect x="666.2" y="296" width="116.400" height="19.900" fill="none" stroke="#1d1d1d" stroke-width="1.200"/>
<!-- pano 2 -->
<g clip-path="url(#cp2)"><g filter="url(#pb)">
<rect x="665" y="330" width="119" height="23" fill="#aaa69e"/>
<rect x="665" y="330" width="21" height="23" fill="#9a6b33"/>
<ellipse cx="672" cy="337" rx="2.500" ry="3.500" fill="#e9d8bf"/>
<rect x="686" y="331" width="36" height="12" fill="#4b4036"/>
<path d="M688,346 L688,340 Q694,331 702,340 L702,346z" fill="#6e5a44"/>
<rect x="704" y="336" width="12" height="6" fill="#7c7468"/>
<polygon points="686,352 688,344 724,344 740,352" fill="#bdbdb9"/>
<ellipse cx="702" cy="347.500" rx="5" ry="1.800" fill="#6a655c"/>
<polygon points="712,345 728,344 733,350 716,351" fill="#e5e1d8"/>
<rect x="720" y="332" width="24" height="13" fill="#d7d4ce"/>
<polygon points="720,336 730,334 732,344 722,345" fill="#3b3530"/>
<rect x="733.500" y="338" width="4.500" height="5" fill="#8ea2b8"/>
<polygon points="738,332 748,332 746,343 742,343" fill="#5a4838"/>
<rect x="746" y="332" width="17" height="14" fill="#dcd9d3"/>
<rect x="748.500" y="336.500" width="3" height="6" fill="#45566e"/>
<rect x="754.500" y="337.500" width="3.500" height="5.500" fill="#3e4a5c"/>
<polygon points="744,346 764,345.500 765,348.500 745,349" fill="#e9d4b2"/>
<polygon points="746,349 764,348.500 764,351.500 747,351.500" fill="#c08a54"/>
<polygon points="761,332 766,332 766,346 763,346" fill="#4d4036"/>
<rect x="766" y="331" width="17" height="21" fill="#c4c7c4"/>
<circle cx="697" cy="333" r="1" fill="#fff"/>
</g></g>
<rect x="666.2" y="331.100" width="116.400" height="20.500" fill="none" stroke="#1d1d1d" stroke-width="1.200"/>

</g>

</svg>
<div class="cap" style="top:391.7px">Figure 2.<span style="margin-left:2.5px"> </span>An overview of the <b>E</b>pisodic <b>Sce</b>ne <b>me</b>mory mechanism for VLN. On the left is partial episodic memory for the current scene,</div>
<div class="cap" style="top:413.4px">which gets updated in navigation 1) following the previous instruction, i.e. the <span class="blue">blue</span> route, and 2) following the current instruction from</div>
<div class="cap" style="top:435.1px">Step 1 to <span class="m"><i>t</i> − 1</span>, i.e. the solid <span class="red">red</span> trajectory. The <span class="cyan">cyan</span> nodes are those viewed but not visited. The shadow box shows the memory of node</div>
<div class="cap" style="top:456.8px">B<sub>1</sub>, which has six adjacent neighbors, i.e. A, B<sub>2</sub>, B<sub>5</sub>, C, D, and E. The integration of these nodes consists of the memory of B<sub>1</sub>.&nbsp; At Step</div>
<div class="cap" style="top:478.5px"><i>t</i>, the agent stands at Node A and is expected to choose one node from B<sub>1</sub> to B<sub>5</sub>. Given observation from K views, each view retrieves its</div>
<div class="cap" style="top:500.2px">memory in ESceme and produces <span class="m">{<b>m</b><sub>1</sub>, ..., <b>m</b><sub><i>K</i></sub>}</span>. The memory representation then fuses with original encoded observations, which yields</div>
<div class="cap" style="top:521.9px;word-spacing:-.35px"><span class="m ob">{<b>o</b><sub>1</sub>, ..., <b>o</b><sub><i>K</i></sub>, <b>o</b><sub><i>s</i></sub>}</span>. <span class="m"><i>o<sub>s</sub></i></span> is the representation for STOP. The enhanced observations, instruction text, and history from Step 1 to <span class="m"><i>t</i> − 1</span> compose</div>
<div class="cap" style="top:543.6px">the input to a navigation network to predict the action <span class="m"><i>a<sub>t</sub></i> = <i>i</i> ∈ {1, ...<i>K</i>, <i>s</i>}</span>. Generally, a navigation network uses the encoded features of</div>
<div class="cap last" style="top:565.3px">the original K views as the input to the cross-modal encoder, i.e. the output <span class="circ">1</span>. Our ESceme exploits the enhanced observations from <span class="circ c2">2</span>.</div>
<svg style="position:absolute;left:836px;top:545px" width="42" height="42" viewBox="0 0 42 42"><g fill="#fff" fill-opacity=".88" stroke="#c4c4c4" stroke-width="0.8"><path d="M14,3.5 C6.5,3.5 1.5,8 1.5,14 C1.5,17.5 3.5,20.5 6.5,22.5 L5.5,27 L10.5,24.2 C12,24.6 13,24.8 14.5,24.8 C22,24.8 27,20 27,14 C27,8 22,3.5 14,3.5z"/><path d="M26,14.5 C19.5,14.5 15,18.5 15,23.5 C15,28.5 19.5,32.5 26,32.5 C27.3,32.5 28.5,32.3 29.6,32 L33.8,34.3 L32.8,30.5 C35.4,28.8 37,26.3 37,23.5 C37,18.5 32.5,14.5 26,14.5z"/></g><g fill="#ddd"><circle cx="22.5" cy="21.5" r="1.2"/><circle cx="29.5" cy="21.5" r="1.2"/></g></svg>
<div id="wm">AiCharm</div>

</body>
</html>
